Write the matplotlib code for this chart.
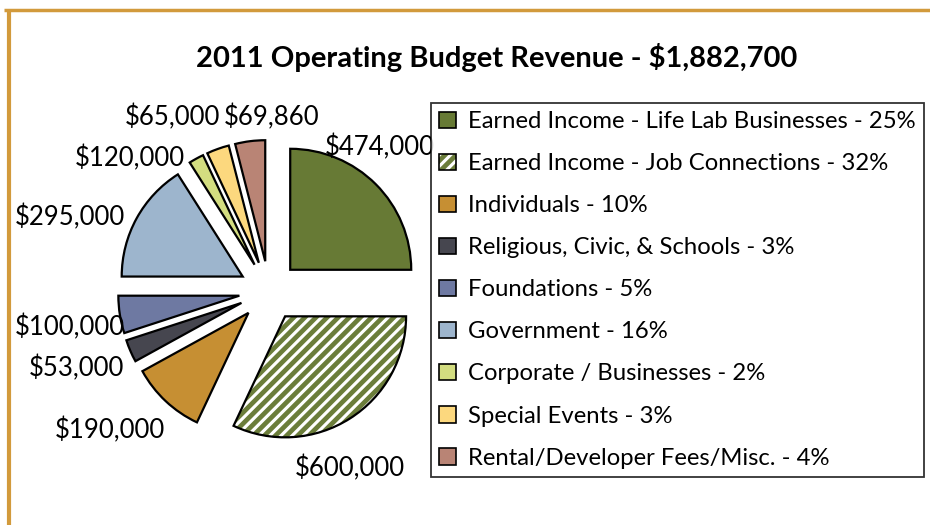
import matplotlib
matplotlib.use("Agg")
import matplotlib.pyplot as plt
from matplotlib.patches import Wedge, Patch
from matplotlib.lines import Line2D

# ---- data ----
categories = [
    "Earned Income - Life Lab Businesses - 25%",
    "Earned Income - Job Connections - 32%",
    "Individuals - 10%",
    "Religious, Civic, & Schools - 3%",
    "Foundations - 5%",
    "Government - 16%",
    "Corporate / Businesses - 2%",
    "Special Events - 3%",
    "Rental/Developer Fees/Misc. - 4%",
]
shares = [25, 32, 10, 3, 5, 16, 2, 3, 4]
dollar_labels = ["$474,000", "$600,000", "$190,000", "$53,000", "$100,000",
                 "$295,000", "$120,000", "$65,000", "$69,860"]
title = "2011 Operating Budget Revenue - $1,882,700"

# ---- style ----
colors = ["#677a35", "#ffffff", "#c68f33", "#46464f", "#6e79a2",
          "#9db5cd", "#d3dd80", "#fcd87e", "#b98475"]
hatch_green = "#6b7d3a"
FONT = "Lato"
plt.rcParams["hatch.linewidth"] = 3.4

W, H = 930, 525
fig = plt.figure(figsize=(W / 100, H / 100), dpi=100)
ax = fig.add_axes([0, 0, 1, 1])

cx, cy = 269, H - 291
R = 121
wedges, _ = ax.pie(shares, center=(cx, cy), radius=R, explode=[30] * len(shares),
                   startangle=90, counterclock=False, colors=colors, frame=True,
                   wedgeprops=dict(edgecolor="black", linewidth=1.6))

# hatched slice
w = wedges[1]
w.set_facecolor("white")
w.set_edgecolor(hatch_green)
w.set_linewidth(0)
w.set_hatch("///")
outline = Wedge(w.center, w.r, w.theta1, w.theta2, facecolor="none",
                edgecolor="black", linewidth=1.6, zorder=w.get_zorder() + 0.1)
ax.add_patch(outline)

# data labels (layout positions in pixels)
label_pos = [(380, 147), (350, 468), (110, 430), (76, 368), (70, 327),
             (70, 217), (130, 158), (172, 117), (272, 117)]
for txt, (lx, ly) in zip(dollar_labels, label_pos):
    ax.text(lx, H - ly, txt, ha="center", va="center", fontsize=18.5,
            family=FONT, color="black")

ax.set_xlim(0, W)
ax.set_ylim(0, H)
ax.axis("off")

# frame decoration
gold = "#d29a3c"
ax.add_line(Line2D([4, W], [H - 10, H - 10], color=gold, lw=2.5, solid_capstyle="butt"))
ax.add_line(Line2D([9, 9], [H - 10, 0], color=gold, lw=3, solid_capstyle="butt"))

# title
fig.text(497 / W, 1 - 57 / H, title, ha="center", va="center", fontsize=21,
         fontweight="bold", family=FONT)

# legend
handles = []
for i, c in enumerate(colors):
    if i == 1:
        handles.append((Patch(facecolor="white", edgecolor=hatch_green, hatch="///",
                              linewidth=0),
                        Patch(facecolor="none", edgecolor="black", linewidth=1.2)))
    else:
        handles.append(Patch(facecolor=c, edgecolor="black", linewidth=1.2))
leg = fig.legend(handles, categories, loc="upper left",
                 bbox_to_anchor=(431 / W, 1 - 103 / H),
                 prop=dict(family=FONT, size=17.2), frameon=True, fancybox=False,
                 edgecolor="black", handlelength=0.7, handleheight=0.7,
                 handletextpad=0.5, labelspacing=0.88, borderpad=0.35,
                 borderaxespad=0)
leg.get_frame().set_linewidth(1.3)

fig.savefig("out.png", dpi=100, facecolor="white")
